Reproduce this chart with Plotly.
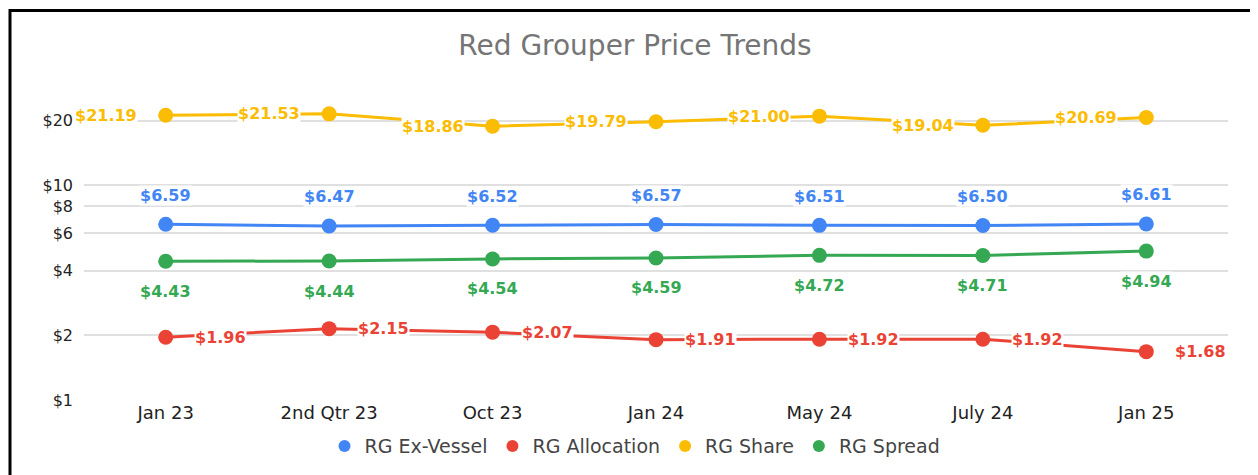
import math
import plotly.graph_objects as go

periods = ["Jan 23", "2nd Qtr 23", "Oct 23", "Jan 24", "May 24", "July 24", "Jan 25"]
ex_vessel = [6.59, 6.47, 6.52, 6.57, 6.51, 6.50, 6.61]
allocation = [1.96, 2.15, 2.07, 1.91, 1.92, 1.92, 1.68]
share = [21.19, 21.53, 18.86, 19.79, 21.00, 19.04, 20.69]
spread = [4.43, 4.44, 4.54, 4.59, 4.72, 4.71, 4.94]

y_ticks = [1, 2, 4, 6, 8, 10, 20]
y_ticktext = ["$1", "$2", "$4", "$6", "$8", "$10", "$20"]

# name, values, colour, label placement (xanchor, xshift, yshift)
series = [
    ("RG Ex-Vessel", ex_vessel, "#4285F4", ("center", 0, 29)),
    ("RG Allocation", allocation, "#EA4335", ("left", 28, 0)),
    ("RG Share", share, "#FBBC04", ("right", -28, 0)),
    ("RG Spread", spread, "#34A853", ("center", 0, -30)),
]

FONT = "DejaVu Sans, Liberation Sans, Arial"

fig = go.Figure()
annotations = []
for name, vals, color, (xa, xs, ys) in series:
    fig.add_trace(go.Scatter(
        x=periods, y=vals, mode="lines+markers", name=name, showlegend=False,
        line=dict(color=color, width=3), marker=dict(color=color, size=15),
    ))
    # legend entry: just the dot
    fig.add_trace(go.Scatter(
        x=[None], y=[None], mode="markers", name=name,
        marker=dict(color=color, size=18),
    ))
    for p, v in zip(periods, vals):
        annotations.append(dict(
            x=p, y=math.log10(v), text=f"${v:.2f}", showarrow=False,
            xanchor=xa, yanchor="middle", xshift=xs, yshift=ys,
            font=dict(family="DejaVu Sans", size=16, color=color, weight="bold"),
            bgcolor="white", borderpad=0,
        ))

fig.update_layout(
    width=1258, height=475,
    paper_bgcolor="white", plot_bgcolor="white",
    margin=dict(l=76, r=38, t=69.5, b=83),
    title=dict(text="Red Grouper Price Trends", x=(635 - 8) / 1258, xanchor="center",
               y=(475 - 37) / 475, yanchor="middle",
               font=dict(family=FONT, size=28, color="#757575")),
    xaxis=dict(range=[-0.5, 6.5], showgrid=False, zeroline=False, showline=False,
               ticks="", tickfont=dict(family=FONT, size=18, color="#222")),
    yaxis=dict(type="log", range=[0, 1.5], tickvals=y_ticks, ticktext=y_ticktext,
               showgrid=True, gridcolor="#e0e0e0", gridwidth=2, zeroline=False,
               ticks="", ticklabelstandoff=10,
               tickfont=dict(family=FONT, size=16, color="#222")),
    legend=dict(orientation="h", x=(635 - 8 - 76) / 1144, xanchor="center",
                y=-0.143, yanchor="middle",
                font=dict(family=FONT, size=19, color="#444"),
                itemsizing="constant", tracegroupgap=0),
    annotations=annotations,
    shapes=[dict(type="rect", xref="paper", yref="paper",
                 x0=(2 - 76) / 1144, x1=(1300 - 76) / 1144,
                 y0=-0.5, y1=390 / 322.5,
                 line=dict(color="black", width=3), fillcolor="rgba(0,0,0,0)",
                 layer="above")],
)

fig.write_html("out.html")
